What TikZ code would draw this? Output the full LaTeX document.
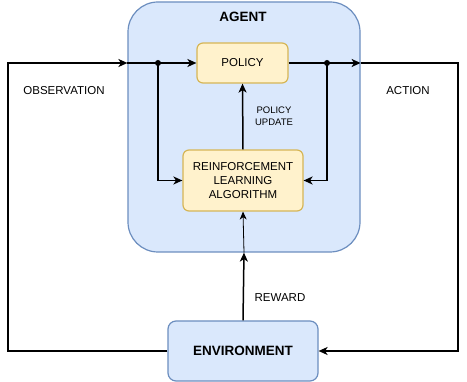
\documentclass[tikz,border=0pt]{standalone}
\usepackage{fontspec}
\setmainfont{Liberation Sans}
\definecolor{agentfill}{HTML}{DAE8FC}
\definecolor{agentline}{HTML}{6C8EBF}
\definecolor{stepfill}{HTML}{FFF2CC}
\definecolor{stepline}{HTML}{D6B656}
\usetikzlibrary{calc, positioning, arrows.meta}

\begin{document}
\begin{tikzpicture}[
    x=1pt, y=-1pt,
    agentbox/.style={fill=agentfill, draw=agentline, line width=1.2pt, rounded corners=30pt,
      minimum width=232pt, minimum height=250pt},
    envbox/.style={fill=agentfill, draw=agentline, line width=1.2pt, rounded corners=8pt,
      minimum width=150pt, minimum height=60pt, font=\fontsize{13.5}{15}\selectfont\bfseries},
    stepbox/.style={fill=stepfill, draw=stepline, line width=1.2pt, rounded corners=6pt,
      align=center, font=\fontsize{11.5}{14}\selectfont},
    flow/.style={draw, line width=1.5pt, -{Stealth[length=9pt,width=8pt,inset=2.5pt]}},
    thinflow/.style={draw, line width=0.8pt, -{Stealth[length=8pt,width=7pt,inset=2.5pt]}},
    lbl/.style={font=\fontsize{11.5}{14}\selectfont, inner sep=0pt},
    smalllbl/.style={font=\fontsize{9.5}{12}\selectfont, align=center, inner sep=0pt},
    junction/.style={circle, fill, inner sep=0pt, minimum size=6pt},
  ]
    \useasboundingbox (0,0) rectangle (467,382);

    % boxes
    \node[agentbox] (agent) at (244,127) {};
    \node[font=\fontsize{13.5}{15}\selectfont\bfseries] (agenttitle) at (243,17) {AGENT};
    \node[stepbox, minimum width=91pt, minimum height=40pt] (policy) at (242.5,63) {POLICY};
    \node[stepbox, minimum width=120pt, minimum height=61pt] (rl) at (243,180.5)
      {REINFORCEMENT\\LEARNING\\ALGORITHM};
    \node[envbox] (env) at (243,351) {ENVIRONMENT};

    % helper points
    \coordinate (obs) at (8,0);
    \coordinate (act) at (458,0);
    \node[junction] (split) at (158,63) {};
    \node[junction] (merge) at (327,63) {};

    % observation loop
    \draw[flow] (env.west) -| (obs |- policy) -- (agent.west |- policy);
    \draw[flow] (agent.west |- policy) -- (policy.west);
    \draw[flow] (split.center) |- (rl.west);

    % action loop
    \draw[flow] (policy.east) -- (agent.east |- policy);
    \draw[flow] (merge.center) |- (rl.east);
    \draw[flow] (agent.east |- policy) -| (act |- env) -- (env.east);

    % update and reward
    \draw[flow] (rl.north) -- (policy.south);
    \node[smalllbl] (update) at (274,116) {POLICY\\UPDATE};
    \draw[flow] (env.north) -- (agent.south);
    \draw[thinflow] (agent.south) -- (rl.south);

    % labels
    \node[lbl] (reward) at (280,298) {REWARD};
    \node[lbl] (observation) at (64,91) {OBSERVATION};
    \node[lbl] (action) at (408,91) {ACTION};
  \end{tikzpicture}
\end{document}
